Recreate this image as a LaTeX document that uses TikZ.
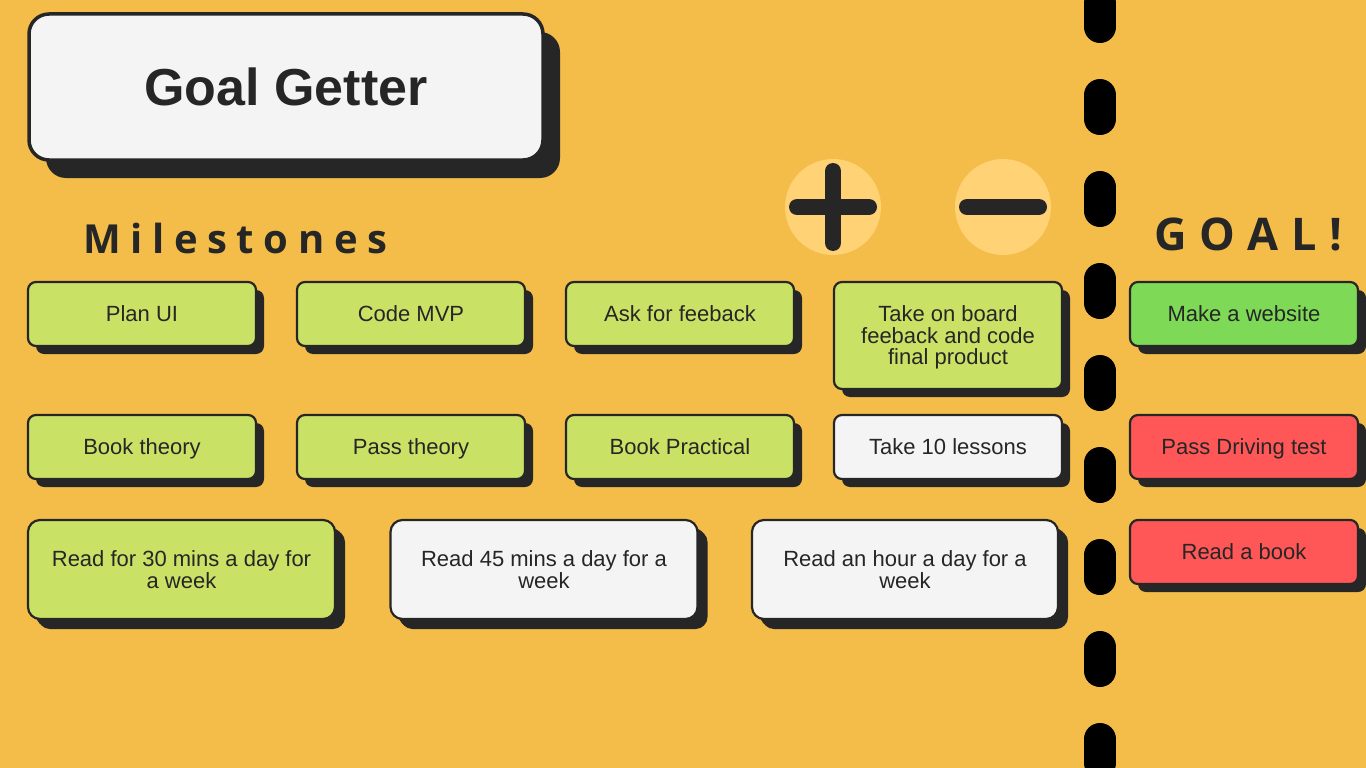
\documentclass[tikz,border=0pt]{standalone}
\usepackage{fontspec}
\setmainfont{Liberation Sans}
\newfontfamily\milesfont[LetterSpace=24]{Open Sans}
\newfontfamily\goalfont[LetterSpace=28.5]{Open Sans}
\usetikzlibrary{shadows}

\definecolor{bgc}{HTML}{F4BD4A}
\definecolor{ink}{HTML}{262626}
\definecolor{lime}{HTML}{C9E265}
\definecolor{leaf}{HTML}{7ED957}
\definecolor{coral}{HTML}{FF5757}
\definecolor{paper}{HTML}{F4F4F4}
\definecolor{halo}{HTML}{FFD275}

\tikzset{
  card/.style={draw=ink, line width=2.2pt, rounded corners=8pt, text=ink,
    font=\fontsize{22}{21.5}\selectfont, align=center, inner sep=0pt,
    execute at begin node=\rule{0pt}{15.5pt}, text depth=0pt,
    minimum width=228pt, minimum height=64pt,
    drop shadow={shadow xshift=8pt, shadow yshift=-8pt, fill=ink, opacity=1}},
  bigcard/.style={card, rounded corners=12pt, minimum width=307pt, minimum height=99pt,
    drop shadow={shadow xshift=10pt, shadow yshift=-10pt, fill=ink, opacity=1}},
  titlecard/.style={draw=ink, line width=3.5pt, rounded corners=20pt, fill=paper, text=ink,
    font=\fontsize{52}{52}\bfseries, inner sep=0pt,
    minimum width=514pt, minimum height=146pt,
    drop shadow={shadow xshift=17pt, shadow yshift=-18pt, fill=ink, opacity=1}},
  heading/.style={text=ink, anchor=west, inner sep=0pt},
  badge/.style={circle, fill=halo, minimum size=96pt, inner sep=0pt},
  bar/.style={ink, line width=16pt, line cap=round},
  gap/.style={black, line width=32pt, line cap=round}
}

\begin{document}
\begin{tikzpicture}[x=1pt,y=-1pt]
\useasboundingbox (0,0) rectangle (1366,768);
\fill[bgc] (0,0) rectangle (1366,768);

% title
\node[titlecard] (title) at (286,87) {Goal Getter};

% section headings
\node[heading, font=\milesfont\fontsize{40}{40}\bfseries] (miles) at (83,238) {Milestones};
\node[heading, font=\goalfont\fontsize{45}{45}\bfseries] (goal) at (1154,234) {GOAL!};

% plus / minus badges
\node[badge] (plus) at (833,207) {};
\node[badge] (minus) at (1003,207) {};
\draw[bar] ([xshift=-36pt]plus.center) -- ([xshift=36pt]plus.center);
\draw[bar] ([yshift=36pt]plus.center) -- ([yshift=-36pt]plus.center);
\draw[bar] ([xshift=-36pt]minus.center) -- ([xshift=36pt]minus.center);

% divider between milestones and goals
\foreach \i in {0,...,8}
  \draw[gap] (1100,{3+92*\i}) -- (1100,{27+92*\i});

% website goal
\node[card, fill=lime] (planui) at (142,314) {Plan UI};
\node[card, fill=lime] (mvp) at (411,314) {Code MVP};
\node[card, fill=lime] (ask) at (680,314) {Ask for feeback};
\node[card, fill=lime, minimum height=107pt] (final) at (948,335.5) {Take on board\\feeback and code\\final product};
\node[card, fill=leaf] (website) at (1244,314) {Make a website};

% driving goal
\node[card, fill=lime] (booktheory) at (142,447) {Book theory};
\node[card, fill=lime] (passtheory) at (411,447) {Pass theory};
\node[card, fill=lime] (bookprac) at (680,447) {Book Practical};
\node[card, fill=paper] (lessons) at (948,447) {Take 10 lessons};
\node[card, fill=coral] (driving) at (1244,447) {Pass Driving test};

% reading goal
\node[bigcard, fill=lime] (read30) at (181.5,569.5) {Read for 30 mins a day for\\a week};
\node[bigcard, fill=paper] (read45) at (544,569.5) {Read 45 mins a day for a\\week};
\node[bigcard, fill=paper, minimum width=306pt] (readhour) at (905,569.5) {Read an hour a day for a\\week};
\node[card, fill=coral] (book) at (1244,552) {Read a book};
\end{tikzpicture}
\end{document}
